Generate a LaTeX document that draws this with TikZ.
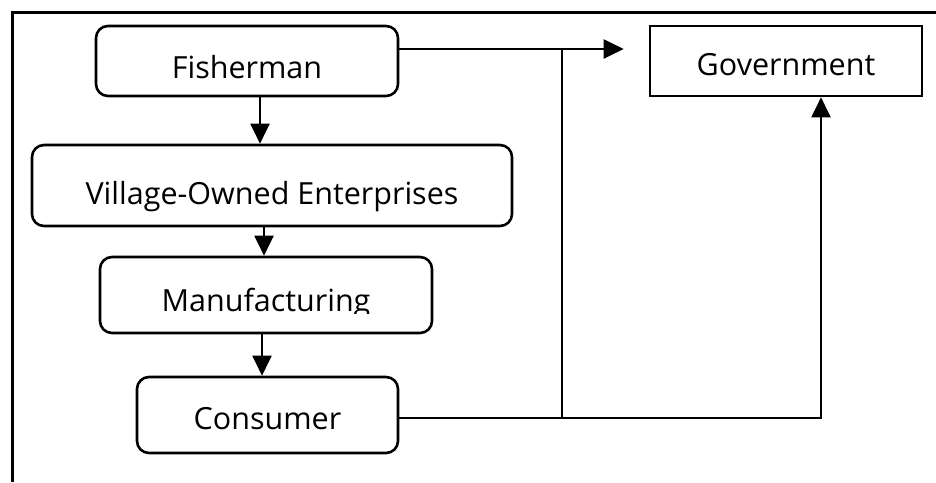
\documentclass[tikz,border=0pt]{standalone}
\usepackage{fontspec}
\setmainfont{Open Sans}
\usetikzlibrary{arrows.meta,calc}
\begin{document}
\begin{tikzpicture}[x=1pt,y=-1pt,
  boxbase/.style={draw,line width=2.6pt,inner sep=0pt,text depth=0pt,
    font=\fontsize{30.5}{36}\selectfont},
  rbox/.style={boxbase,rounded corners=12pt},
  conn/.style={line width=2pt},
  arr/.style={conn,-{Triangle[length=20pt,width=19pt]}}]
\useasboundingbox (0,0) rectangle (936,482);
% frame
\draw[line width=3pt] (936,12) -- (12,12) -- (12,482);
% nodes
\node[rbox,minimum width=302pt,minimum height=70pt,text height=34pt] (fish) at (247,61) {Fisherman};
\node[rbox,minimum width=480pt,minimum height=81pt,text height=37pt] (vil) at (272,185.5) {Village-Owned Enterprises};
\node[rbox,minimum width=332pt,minimum height=76pt,text height=32pt] (manu) at (266,295) {Manufacturing};
\node[rbox,minimum width=261pt,minimum height=76pt,text height=28pt] (cons) at (267.5,415) {Consumer};
\node[boxbase,minimum width=272pt,minimum height=70pt,text height=28pt] (gov) at (786,61) {Government};
% cut-off bottom of the Manufacturing text
\fill[white] (140,313.5) rectangle (400,329);
% helper coordinates
\coordinate (fe) at ([yshift=12pt]fish.east);
\coordinate (ce) at ([yshift=-3pt]cons.east);
\coordinate (gtip) at ([xshift=-25pt]gov.west);
\coordinate (gb) at ([xshift=35pt]gov.south);
\coordinate (jx) at (562,0);
\coordinate (a1) at ([xshift=13pt]fish.south);
\coordinate (a2) at ([xshift=-8pt]vil.south);
\coordinate (a3) at ([xshift=-4pt]manu.south);
% connectors
\draw[arr] (a1) -- (a1 |- vil.north);
\draw[arr] (a2) -- (a2 |- manu.north);
\draw[arr] (a3) -- (a3 |- cons.north);
\draw[arr] (fe) -- (fe -| gtip);
\draw[arr] (ce) -| (gb);
\draw[conn] (fe -| jx) -- (ce -| jx);
\end{tikzpicture}
\end{document}
